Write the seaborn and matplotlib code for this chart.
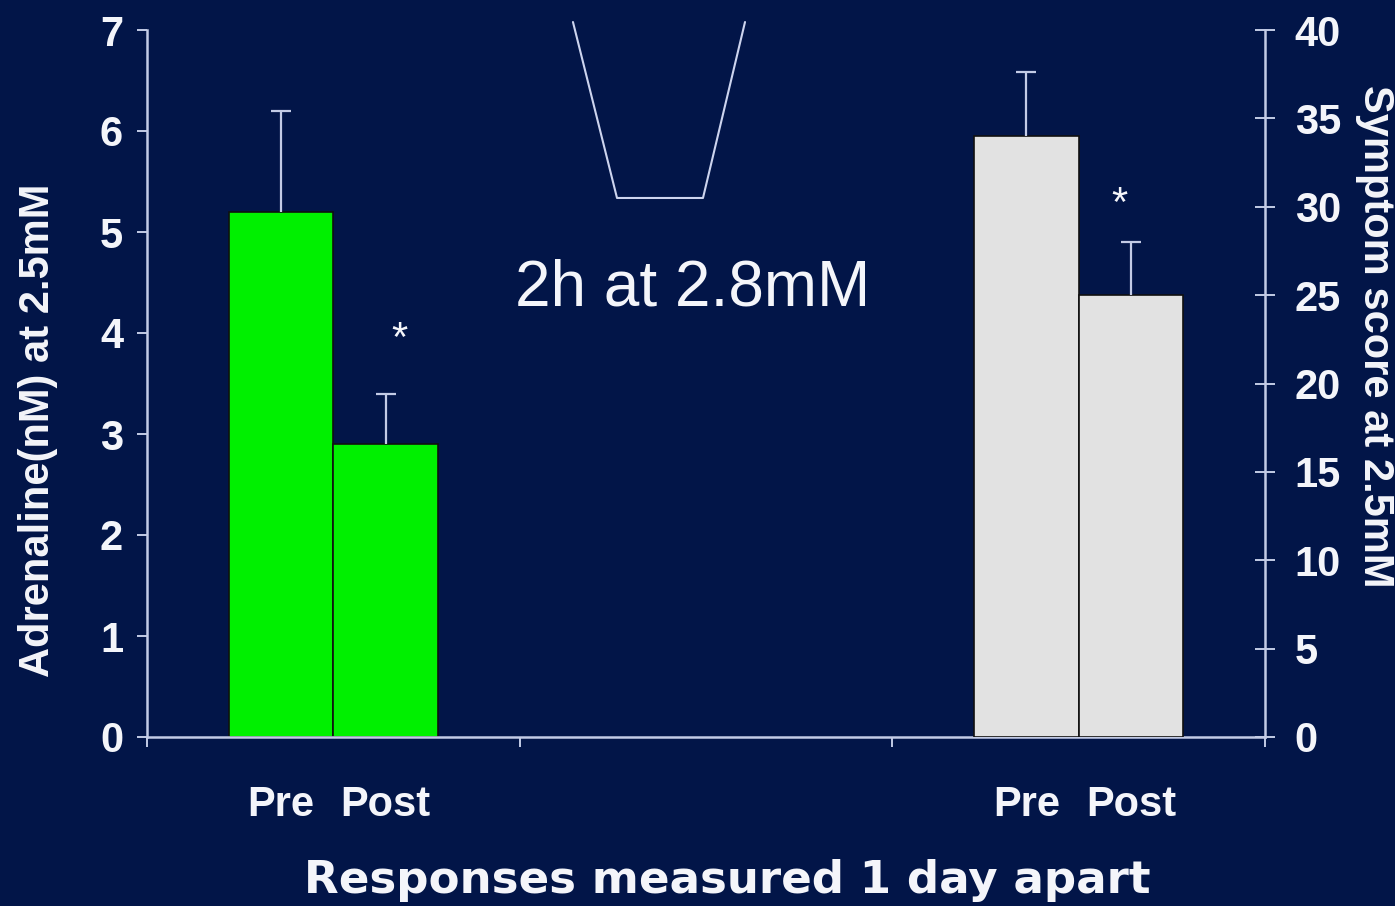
import matplotlib
matplotlib.use("Agg")
import matplotlib.pyplot as plt
import pandas as pd
import seaborn as sns

# ---- data ---------------------------------------------------------------
panels = ["Adrenaline", "Clamp", "Symptoms"]
phases = ["Pre", "Post"]
adrenaline_mean = [5.2, 2.9]      # nM at 2.5 mM glucose
adrenaline_sem = [1.0, 0.5]
symptom_mean = [34.0, 25.0]       # symptom score at 2.5 mM glucose
symptom_sem = [3.6, 3.0]
adrenaline_ticks = [0, 1, 2, 3, 4, 5, 6, 7]
symptom_ticks = [0, 5, 10, 15, 20, 25, 30, 35, 40]
significant = ["*", "*"]          # Post vs Pre

# ---- style --------------------------------------------------------------
BG = "#021548"
AXIS = "#c3cbe6"
TEXT = "#f4f5fa"
GREEN = "#00f000"
GREY = "#e2e2e2"

sns.set_style("ticks", {"axes.facecolor": BG, "figure.facecolor": BG,
                        "axes.edgecolor": AXIS})
plt.rcParams["font.family"] = ["Liberation Sans", "DejaVu Sans"]
plt.rcParams["font.weight"] = "bold"

W, H = 1395, 906
fig = plt.figure(figsize=(W / 100, H / 100), dpi=100, facecolor=BG)
ax = fig.add_axes([147 / W, 1 - 737 / H, (1265 - 147) / W, (737 - 30) / H])

adr = pd.DataFrame({"panel": panels[0], "phase": phases, "value": adrenaline_mean})
sym = pd.DataFrame({"panel": panels[2], "phase": phases, "value": symptom_mean})

bar_kw = dict(x="panel", y="value", hue="phase", order=panels, hue_order=phases,
              width=0.56, saturation=1, edgecolor="#101010", linewidth=1.2,
              errorbar=None, legend=False, zorder=2)
sns.barplot(data=adr, palette={p: GREEN for p in phases}, ax=ax, **bar_kw)
ax2 = ax.twinx()
sns.barplot(data=sym, palette={p: GREY for p in phases}, ax=ax2, **bar_kw)


def add_errorbars(axis, means, sems):
    bars = sorted(axis.patches, key=lambda p: p.get_x())
    xs = [b.get_x() + b.get_width() / 2 for b in bars]
    cont = axis.errorbar(xs, means, yerr=[[0] * len(sems), sems], fmt="none",
                         ecolor=AXIS, elinewidth=1.6, capsize=7, capthick=1.6,
                         zorder=3)
    # upper whisker only: hide the caps sitting on the bar tops
    cont[1][0].set_visible(False)
    return xs


x_adr = add_errorbars(ax, adrenaline_mean, adrenaline_sem)
x_sym = add_errorbars(ax2, symptom_mean, symptom_sem)

# significance stars above the Post bars
ax.annotate(significant[0], xy=(x_adr[1], adrenaline_mean[1] + adrenaline_sem[1]),
            xytext=(10, 31), textcoords="offset points", ha="center",
            va="baseline", fontsize=30, fontweight="normal", color=TEXT)
ax2.annotate(significant[1], xy=(x_sym[1], symptom_mean[1] + symptom_sem[1]),
             xytext=(-8, 19), textcoords="offset points", ha="center",
             va="baseline", fontsize=30, fontweight="normal", color=TEXT)

# glucose clamp profile sketch
clamp_x = [0.381, 0.4204, 0.4973, 0.5349]
clamp_y = [1.0113, 0.7624, 0.7624, 1.0113]
ax.plot(clamp_x, clamp_y, transform=ax.transAxes, clip_on=False,
        color="#cdd4ee", lw=1.5, zorder=4)
ax.text(0.4884, 0.611, "2h at 2.8mM", transform=ax.transAxes, ha="center",
        va="baseline", fontsize=46, fontweight="normal", color=TEXT)

# ---- axes ---------------------------------------------------------------
ax.set_xlim(-0.5, len(panels) - 0.5)
ax.set_ylim(adrenaline_ticks[0], adrenaline_ticks[-1])
ax2.set_ylim(symptom_ticks[0], symptom_ticks[-1])
ax.set_yticks(adrenaline_ticks)
ax2.set_yticks(symptom_ticks)

ax.set_xticks([i - 0.5 for i in range(len(panels) + 1)])
ax.set_xticklabels([])
ax.set_xticks(x_adr + x_sym, minor=True)
ax.set_xticklabels(phases + phases, minor=True)

for a in (ax, ax2):
    a.grid(False)
    for s in a.spines.values():
        s.set_color(AXIS)
        s.set_linewidth(1.8)
ax.spines["top"].set_visible(False)
ax.spines["right"].set_visible(False)
for s in ("top", "left", "bottom"):
    ax2.spines[s].set_visible(False)

ax.tick_params(axis="y", which="major", left=True, direction="out", length=7.2,
               width=1.4, color=AXIS, pad=10, labelsize=30, labelcolor=TEXT)
ax.tick_params(axis="x", which="major", bottom=True, direction="out", length=7.5,
               width=1.4, color=AXIS)
ax.tick_params(axis="x", which="minor", bottom=True, length=0, pad=34.5,
               labelsize=30, labelcolor=TEXT)
ax2.tick_params(axis="y", which="major", right=True, direction="inout",
                length=14, width=1.4, color=AXIS, pad=14.5, labelsize=30,
                labelcolor=TEXT)

ax.set_ylabel("Adrenaline(nM) at 2.5mM", fontsize=30, color=TEXT,
              fontweight="bold")
ax.yaxis.set_label_coords(-0.0975, 0.434)
ax.yaxis.label.set_va("center")

ax2.set_ylabel("Symptom score at 2.5mM", fontsize=30, color=TEXT,
               fontweight="bold", rotation=270)
ax2.yaxis.set_label_coords(1.098, 0.567)
ax2.yaxis.label.set_va("center")

ax.set_xlabel("Responses measured 1 day apart", fontsize=32.5, color=TEXT,
              fontweight="bold", family=["DejaVu Sans"])
ax.xaxis.set_label_coords(0.519, -0.1726)
ax.xaxis.label.set_va("top")

fig.savefig("out.png", dpi=100, facecolor=BG)
